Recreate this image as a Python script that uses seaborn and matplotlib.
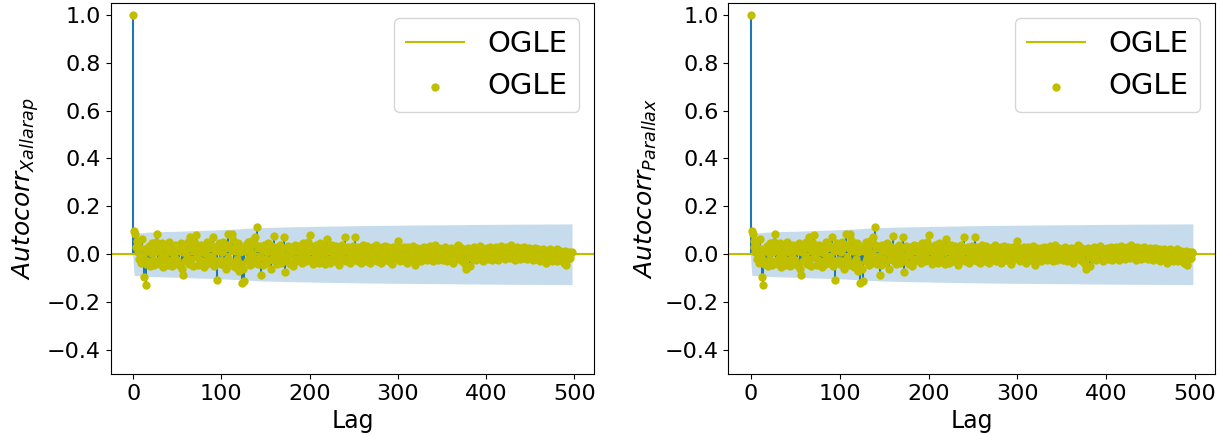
import numpy as np
import matplotlib
matplotlib.use('Agg')
import matplotlib.pyplot as plt
import seaborn as sns

# autocorrelation values, lag 0..497
acf_000 = [1.0,
           0.095, 0.085, 0.030, 0.055, 0.010, 0.040, -0.020, 0.025, -0.035, 0.065,
           -0.010, -0.095, 0.020, -0.128, -0.040, 0.015, -0.030, 0.035, -0.050, 0.005,
           0.045, -0.025, 0.030, -0.045, 0.010, 0.050, 0.085, -0.030, 0.020, -0.040,
           0.035, -0.015, 0.045, -0.055, 0.005, 0.040, -0.020, 0.030, -0.045, 0.015,
           0.050, -0.030, 0.010, -0.050, 0.035, -0.010, 0.040, -0.035, 0.020]
acf_050 = [-0.025, 0.030, -0.045, 0.015, 0.045, -0.060, -0.087, 0.010, 0.035, -0.030,
           0.020, -0.015, 0.050, -0.040, 0.025, 0.070, -0.020, 0.030, -0.050, 0.015,
           0.045, 0.080, -0.010, 0.035, -0.045, 0.020, -0.025, 0.040, -0.030, 0.010,
           -0.055, 0.030, 0.005, -0.040, 0.050, -0.020, 0.025, -0.035, 0.040, -0.010,
           0.030, 0.072, -0.050, 0.015, -0.030, -0.108, 0.020, 0.045, -0.025, 0.035]
acf_100 = [-0.040, 0.010, 0.050, -0.030, 0.025, -0.060, 0.040, 0.085, -0.015, 0.030,
           -0.045, 0.020, 0.085, 0.060, -0.035, 0.015, -0.055, 0.035, -0.020, 0.045,
           -0.070, 0.010, -0.040, -0.122, 0.025, -0.060, -0.110, 0.015, 0.040, -0.030,
           0.050, -0.015, 0.030, -0.045, 0.055, 0.005, -0.035, 0.045, 0.070, -0.020,
           0.114, 0.025, -0.040, 0.035, -0.010, -0.087, 0.020, -0.045, 0.040, -0.020]
acf_150 = [0.030, -0.035, 0.010, 0.045, -0.025, 0.020, -0.060, 0.035, -0.015, 0.025,
           0.076, -0.030, 0.015, -0.040, 0.030, 0.005, -0.020, 0.040, -0.035, 0.020,
           -0.010, 0.070, -0.073, 0.025, -0.030, 0.035, -0.005, 0.020, -0.040, 0.030,
           0.010, -0.050, 0.025, -0.020, 0.040, -0.030, 0.015, 0.035, -0.025, 0.005,
           0.030, -0.035, 0.020, 0.045, -0.015, 0.025, -0.030, 0.010, 0.050, -0.020]
acf_200 = [0.035, 0.080, -0.025, 0.015, -0.040, 0.030, -0.010, 0.040, -0.030, 0.020,
           0.005, -0.035, 0.045, -0.015, 0.025, -0.025, 0.035, 0.010, -0.040, 0.020,
           0.065, -0.020, 0.030, -0.035, 0.015, 0.040, -0.010, 0.025, -0.030, 0.010,
           0.035, -0.020, 0.020, -0.045, 0.030, 0.005, -0.025, 0.040, -0.015, 0.025,
           0.072, -0.030, 0.015, -0.020, 0.030, 0.010, -0.035, 0.025, -0.005, 0.035]
acf_250 = [-0.025, 0.015, 0.070, -0.020, 0.030, -0.030, 0.020, 0.005, -0.035, 0.025,
           0.040, -0.015, 0.020, -0.030, 0.010, 0.035, -0.020, 0.015, -0.035, 0.025,
           0.005, -0.025, 0.030, -0.010, 0.020, 0.040, -0.030, 0.010, -0.020, 0.025,
           0.000, -0.035, 0.030, -0.010, 0.020, 0.035, -0.025, 0.010, -0.015, 0.030,
           -0.030, 0.015, 0.025, -0.040, 0.005, 0.030, -0.020, 0.015, -0.010, 0.025]
acf_300 = [0.055, -0.020, 0.015, -0.030, 0.025, 0.005, -0.025, 0.030, -0.010, 0.020,
           -0.035, 0.010, 0.030, -0.015, 0.020, -0.025, 0.005, 0.035, -0.020, 0.015,
           -0.045, 0.010, 0.025, -0.015, 0.020, 0.000, -0.030, 0.025, -0.005, 0.015,
           0.030, -0.020, 0.010, -0.025, 0.020, 0.005, -0.015, 0.035, -0.010, 0.015,
           -0.030, 0.020, 0.040, -0.005, 0.015, -0.025, 0.010, 0.025, -0.015, 0.005]
acf_350 = [0.020, -0.025, 0.015, 0.030, -0.010, 0.005, -0.030, 0.020, 0.010, -0.020,
           0.025, -0.005, 0.015, -0.035, 0.010, 0.025, -0.015, 0.005, 0.040, -0.020,
           0.030, -0.010, 0.015, -0.030, 0.010, 0.020, -0.040, -0.060, 0.015, 0.025,
           -0.010, 0.010, -0.050, 0.020, 0.005, -0.020, 0.030, -0.010, 0.015, -0.025,
           0.020, 0.005, -0.015, 0.035, -0.005, 0.025, -0.030, 0.010, 0.020, -0.015]
acf_400 = [0.010, 0.025, -0.020, 0.015, -0.010, 0.030, 0.005, -0.025, 0.020, -0.005,
           0.015, 0.030, -0.015, 0.010, -0.025, 0.020, 0.000, 0.035, -0.010, 0.015,
           0.025, -0.020, 0.010, 0.030, -0.005, 0.020, 0.015, -0.015, 0.037, 0.025,
           -0.010, 0.020, 0.005, -0.025, 0.015, 0.030, -0.010, 0.020, 0.000, -0.020,
           0.025, 0.010, -0.015, 0.030, 0.005, -0.010, 0.020, -0.020, 0.015, 0.025]
acf_450 = [-0.010, 0.020, 0.005, -0.025, 0.015, 0.025, -0.015, 0.010, -0.020, 0.020,
           0.000, -0.030, 0.015, 0.005, -0.020, 0.020, -0.010, 0.010, -0.035, 0.015,
           0.005, -0.025, 0.020, -0.010, 0.010, -0.030, 0.015, 0.000, -0.020, 0.010,
           0.020, -0.030, 0.005, -0.015, 0.015, -0.025, 0.010, 0.000, -0.035, 0.010,
           0.015, -0.046, 0.005, -0.020, 0.010, -0.015, 0.005, 0.010]

nobs = 500
panel_labels = ['$Autocorr_{Xallarap}$', '$Autocorr_{Parallax}$']
series_label = 'OGLE'

acf = np.array(acf_000 + acf_050 + acf_100 + acf_150 + acf_200
               + acf_250 + acf_300 + acf_350 + acf_400 + acf_450)
lags = np.arange(len(acf))

# Bartlett confidence band (as statsmodels plot_acf does)
varacf = np.ones(len(acf)) / nobs
varacf[0] = 0
varacf[2:] *= 1 + 2 * np.cumsum(acf[1:-1] ** 2)
half = 1.96 * np.sqrt(varacf)
band_lags = lags.astype(float)
band_lags[0] -= 0.5
band_lags[-1] += 0.5

fig = plt.figure(figsize=(12.21, 4.36), dpi=100)
positions = [[0.0907, 0.1422, 0.3958, 0.8498],
             [0.5965, 0.1422, 0.3986, 0.8498]]

for pos, ylab in zip(positions, panel_labels):
    ax = fig.add_axes(pos)
    ax.vlines(lags, 0, acf, color='C0', linewidth=1.5)
    ax.axhline(0, color='y', label=series_label)
    sns.scatterplot(x=lags, y=acf, color='y', s=36, linewidth=0,
                    label=series_label, ax=ax, zorder=3)
    ax.fill_between(band_lags, -half, half, color='C0', alpha=0.25, linewidth=0)
    ax.margins(0.05)
    ax.set_ylim(-0.5, 1.047)
    ax.set_xlabel('Lag', fontsize=17)
    ax.set_ylabel(ylab, fontsize=18)
    ax.tick_params(labelsize=16)
    ax.legend(loc='upper right', fontsize=21)

fig.savefig('out.png', dpi=100)
